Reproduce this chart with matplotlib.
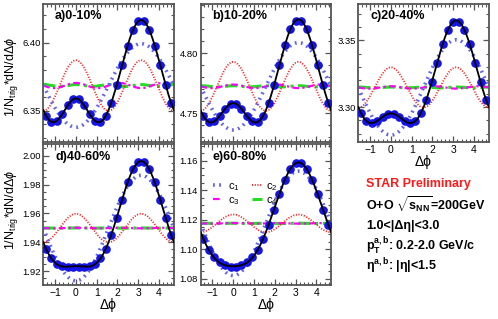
import numpy as np
import matplotlib
matplotlib.use("Agg")
import matplotlib.pyplot as plt
from matplotlib.ticker import MultipleLocator, FormatStrFormatter

plt.rcParams['font.family'] = ['Liberation Sans', 'DejaVu Sans']
plt.rcParams['mathtext.fontset'] = 'custom'
plt.rcParams['mathtext.rm'] = 'Liberation Sans'
plt.rcParams['mathtext.bf'] = 'Liberation Sans:bold'
plt.rcParams['mathtext.it'] = 'Liberation Sans:italic'

# --- data -------------------------------------------------------------
titles = ["a)0-10%", "b)10-20%", "c)20-40%", "d)40-60%", "e)60-80%"]

# 24 bins in dphi between -pi/2 and 3pi/2 (bin centres)
dphi = -np.pi / 2 + (np.arange(24) + 0.5) * np.pi / 12

y_a = [6.3464, 6.3418, 6.3426, 6.3476, 6.3540, 6.3584, 6.3584, 6.3540,
       6.3476, 6.3426, 6.3418, 6.3464, 6.3559, 6.3689, 6.3835, 6.3978,
       6.4093, 6.4158, 6.4158, 6.4093, 6.3978, 6.3835, 6.3689, 6.3559]
y_b = [4.7479, 4.7428, 4.7432, 4.7479, 4.7539, 4.7579, 4.7579, 4.7539,
       4.7479, 4.7432, 4.7428, 4.7479, 4.7586, 4.7734, 4.7903, 4.8068,
       4.8200, 4.8273, 4.8273, 4.8200, 4.8068, 4.7903, 4.7734, 4.7586]
y_c = [3.2954, 3.2895, 3.2879, 3.2896, 3.2926, 3.2949, 3.2949, 3.2926,
       3.2896, 3.2879, 3.2895, 3.2954, 3.3054, 3.3186, 3.3332, 3.3471,
       3.3581, 3.3642, 3.3642, 3.3581, 3.3471, 3.3332, 3.3186, 3.3054]
y_d = [1.9355, 1.9288, 1.9250, 1.9233, 1.9230, 1.9231, 1.9231, 1.9230,
       1.9233, 1.9250, 1.9288, 1.9355, 1.9450, 1.9568, 1.9695, 1.9814,
       1.9906, 1.9957, 1.9957, 1.9906, 1.9814, 1.9695, 1.9568, 1.9450]
y_e = [1.1071, 1.0997, 1.0944, 1.0910, 1.0890, 1.0882, 1.0882, 1.0890,
       1.0910, 1.0944, 1.0997, 1.1071, 1.1163, 1.1268, 1.1375, 1.1471,
       1.1544, 1.1584, 1.1584, 1.1544, 1.1471, 1.1375, 1.1268, 1.1163]

# Fourier coefficients: Y = c0 + 2*sum(cn*cos(n dphi))
coef_a = [6.3685, -0.01535, 0.0093, 0.00095, 0.00035]
coef_b = [4.7725, -0.0182, 0.0102, 0.00075, 0.00025]
coef_c = [3.3147, -0.0179, 0.00755, 0.00045, 0.00015]
coef_d = [1.9498, -0.0183, 0.00495, 0.0001, 0.00005]
coef_e = [1.1175, -0.0177, 0.0030, 0.0001, 0.00005]

ylims = [(6.327, 6.4284), (4.7261, 4.8411), (3.2737, 3.3774),
         (1.9103, 2.0081), (1.0757, 1.1713)]
ymajor = [0.05, 0.05, 0.05, 0.02, 0.02]
yminor = [0.01, 0.01, 0.01, 0.005, 0.005]

# --- figure -----------------------------------------------------------
W, H = 498, 319
fig = plt.figure(figsize=(W / 100, H / 100), dpi=100)

col_left = [43.3, 200.6, 358.3]
col_w = 130.5
rows = [(4, 142), (144, 285)]
cells = [(0, 0), (1, 0), (2, 0), (0, 1), (1, 1)]

frame_col = '#555555'
styles = {
    1: dict(color='#6464e8', lw=2.6, ls=(0, (0.5, 1.2)), label=r'c$_1$'),
    2: dict(color='#ff1a1a', lw=1.3, ls=(0, (0.6, 0.9)), label=r'c$_2$'),
    3: dict(color='#ff00ff', lw=1.6, ls=(0, (3, 1.5, 1, 1.5)), label=r'c$_3$'),
    4: dict(color='#22dd22', lw=2.2, ls=(0, (4, 1.5, 1, 1.5)), label=r'c$_4$'),
}

ys = [y_a, y_b, y_c, y_d, y_e]
coefs = [coef_a, coef_b, coef_c, coef_d, coef_e]
xf = np.linspace(-np.pi / 2, 3 * np.pi / 2, 300)

for i, (ci, ri) in enumerate(cells):
    top, bot = rows[ri]
    ax = fig.add_axes([col_left[ci] / W, (H - bot) / H, col_w / W, (bot - top) / H])
    c = coefs[i]
    handles = {}
    for n in (4, 3, 2, 1):
        h, = ax.plot(xf, c[0] + 2 * c[n] * np.cos(n * xf), zorder=2, **styles[n])
        handles[n] = h
    full = c[0] + sum(2 * c[n] * np.cos(n * xf) for n in range(1, 5))
    ax.plot(dphi, ys[i], 'o', color='#1414e6', ms=5.2, mec='#1414e6', zorder=3)
    ax.plot(xf, full, color='black', lw=1.3, zorder=4)

    ax.set_xlim(-np.pi / 2, 3 * np.pi / 2)
    ax.set_ylim(*ylims[i])
    ax.xaxis.set_major_locator(MultipleLocator(1))
    ax.xaxis.set_minor_locator(MultipleLocator(0.2))
    ax.yaxis.set_major_locator(MultipleLocator(ymajor[i]))
    ax.yaxis.set_minor_locator(MultipleLocator(yminor[i]))
    ax.yaxis.set_major_formatter(FormatStrFormatter('%.2f'))
    ax.tick_params(which='both', direction='in', top=True, right=True,
                   color=frame_col, labelsize=6.8, pad=2)
    ax.tick_params(which='major', length=4.5, width=0.9)
    ax.tick_params(which='minor', length=2.2, width=0.8)
    for s in ax.spines.values():
        s.set_color(frame_col)
        s.set_linewidth(1.3)
    if i in (0, 1):
        ax.tick_params(labelbottom=False)
    else:
        ax.tick_params(axis='x', labelsize=7.5)
        ax.set_xlabel('Δϕ', fontsize=10, labelpad=0)
    ax.text(0.09, 0.91, titles[i], transform=ax.transAxes, fontsize=9,
            fontweight='bold', va='center', ha='left')
    if i == 4:
        ax.legend([handles[1], handles[3], handles[2], handles[4]],
                  [styles[1]['label'], styles[3]['label'],
                   styles[2]['label'], styles[4]['label']],
                  ncol=2, loc='upper left', bbox_to_anchor=(0.02, 0.81),
                  frameon=False, fontsize=8, handlelength=0.9,
                  handletextpad=0.4, columnspacing=1.1, labelspacing=0.25)

ylab = r'1/N$_{\rm trig}$*dN/d$\Delta\phi$'
fig.text(11 / W, 1 - 77 / H, ylab, rotation=90, ha='center', va='center', fontsize=9)
fig.text(11 / W, 1 - 210 / H, ylab, rotation=90, ha='center', va='center', fontsize=9)

tx = 366 / W
fig.text(tx, 1 - 184 / H, 'STAR Preliminary', color='#ff1a1a', fontsize=9,
         fontweight='bold', va='center')
fig.text(tx, 1 - 205 / H, r'O+O $\mathbf{\sqrt{s_{NN}}}$=200GeV', fontsize=9,
         fontweight='bold', va='center')
fig.text(tx, 1 - 226 / H, '1.0<|Δη|<3.0', fontsize=9, fontweight='bold', va='center')
fig.text(tx, 1 - 246 / H, r'$\mathbf{p_{T}^{a,b}}$: 0.2-2.0 GeV/c', fontsize=9,
         fontweight='bold', va='center')
fig.text(tx, 1 - 266 / H, r'η$^{\mathbf{a,b}}$: |η|<1.5', fontsize=9,
         fontweight='bold', va='center')

fig.savefig('out.png', dpi=100)
